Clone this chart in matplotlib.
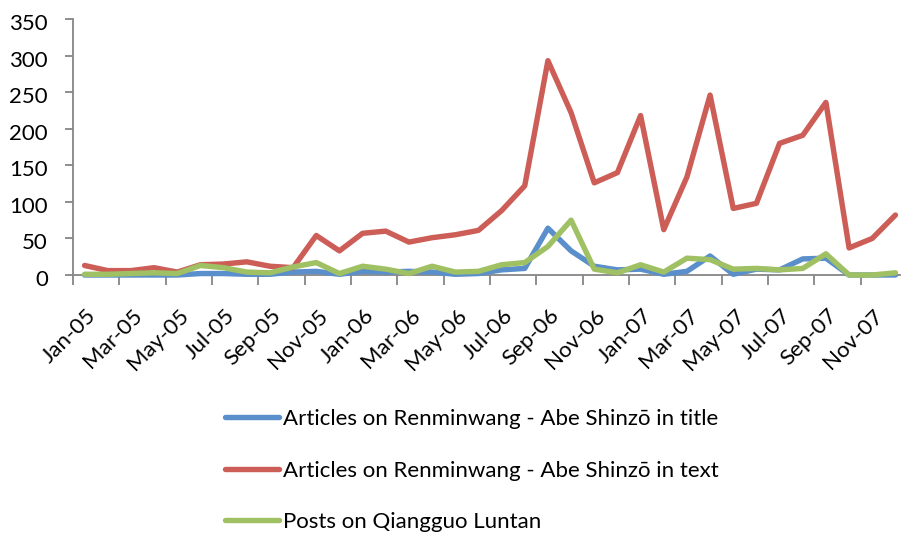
import matplotlib
matplotlib.use("Agg")
import matplotlib.pyplot as plt
from matplotlib.transforms import ScaledTranslation
import numpy as np

months = ["Jan-05", "Feb-05", "Mar-05", "Apr-05", "May-05", "Jun-05", "Jul-05", "Aug-05",
          "Sep-05", "Oct-05", "Nov-05", "Dec-05", "Jan-06", "Feb-06", "Mar-06", "Apr-06",
          "May-06", "Jun-06", "Jul-06", "Aug-06", "Sep-06", "Oct-06", "Nov-06", "Dec-06",
          "Jan-07", "Feb-07", "Mar-07", "Apr-07", "May-07", "Jun-07", "Jul-07", "Aug-07",
          "Sep-07", "Oct-07", "Nov-07", "Dec-07"]

title_articles = [0, 0, 0, 0, 0, 2, 2, 1, 1, 4, 5, 1, 5, 4, 5, 4, 1, 2, 7, 9,
                  64, 33, 12, 7, 8, 1, 5, 26, 1, 8, 7, 22, 23, 0, 0, 0]
text_articles = [13, 6, 6, 10, 4, 14, 15, 18, 12, 10, 54, 33, 57, 60, 45, 51, 55, 61, 88, 122,
                 293, 222, 126, 140, 218, 62, 134, 246, 91, 98, 180, 191, 236, 37, 50, 82]
posts = [1, 1, 2, 3, 2, 13, 10, 4, 3, 11, 17, 2, 12, 8, 2, 12, 4, 5, 14, 17,
         39, 75, 8, 3, 14, 4, 23, 21, 8, 9, 7, 9, 29, 0, 0, 3]

series_names = ["Articles on Renminwang - Abe Shinzō in title",
                "Articles on Renminwang - Abe Shinzō in text",
                "Posts on Qiangguo Luntan"]
colors = ["#5A8FCB", "#CC5E57", "#A0C163"]
y_ticks = [0, 50, 100, 150, 200, 250, 300, 350]

plt.rcParams['font.family'] = ['Lato', 'DejaVu Sans']
W, H = 901, 536
fig = plt.figure(figsize=(W / 100, H / 100), dpi=100)
ax = fig.add_axes([73 / W, 1 - 275 / H, 834 / W, 256 / H])

x = np.arange(len(months))
for vals, name, c in zip([title_articles, text_articles, posts], series_names, colors):
    ax.plot(x, vals, color=c, lw=3.9, label=name, solid_capstyle='round',
            solid_joinstyle='round', clip_on=False, zorder=3)

grey = "#868686"
ax.set_xlim(-0.5, len(months) - 0.5)
ax.set_ylim(0, 350)
for s in ["top", "right"]:
    ax.spines[s].set_visible(False)
for s in ["left", "bottom"]:
    ax.spines[s].set_color(grey)
    ax.spines[s].set_linewidth(1.3)

ax.set_yticks(y_ticks)
ax.set_yticklabels([str(v) for v in y_ticks], fontsize=16)
ax.tick_params(axis='y', direction='out', length=6, width=1.3, color=grey, pad=12)
for lab in ax.get_yticklabels():
    lab.set_transform(lab.get_transform() + ScaledTranslation(0, -0.03, fig.dpi_scale_trans))

ax.set_xticks(np.arange(-0.5, len(months) - 0.4, 2))
ax.set_xticklabels([])
ax.tick_params(axis='x', which='major', direction='out', length=7, width=1.3, color=grey)
ax.set_xticks(x[::2], minor=True)
ax.set_xticklabels(months[::2], minor=True, fontsize=16, rotation=45, ha='right',
                   va='center', rotation_mode='anchor')
ax.tick_params(axis='x', which='minor', length=0, pad=27)
for lab in ax.get_xticklabels(minor=True):
    lab.set_transform(lab.get_transform() + ScaledTranslation(0.08, 0, fig.dpi_scale_trans))

leg = fig.legend(loc='upper left', bbox_to_anchor=(225 / W, 1 - 409 / H), frameon=False,
                 fontsize=16, handlelength=2.45, handletextpad=0.15, labelspacing=1.42,
                 borderpad=0, borderaxespad=0)
for h in leg.get_lines():
    h.set_linewidth(3.9)
    h.set_solid_capstyle('round')

fig.savefig("out.png", dpi=100)
